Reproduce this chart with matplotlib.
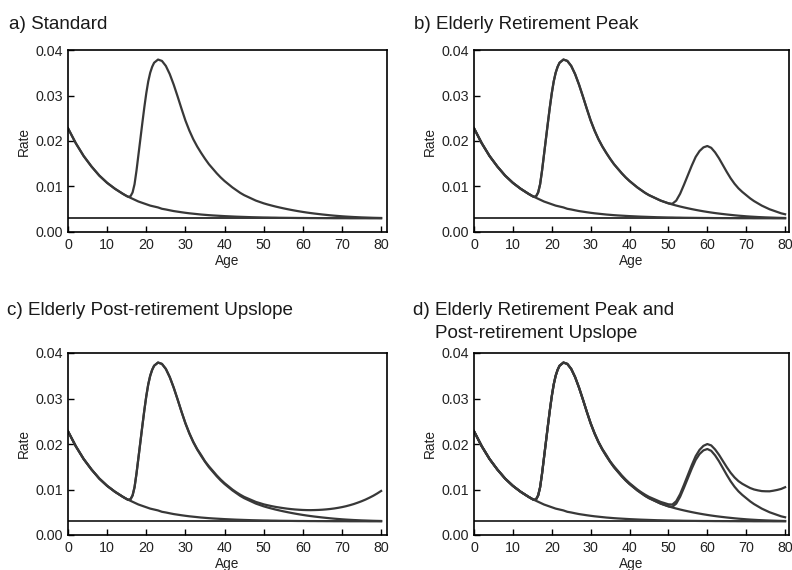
import matplotlib
matplotlib.use("Agg")
import matplotlib.pyplot as plt

plt.rcParams['font.family'] = ['Liberation Sans', 'DejaVu Sans']

# ---------------- data ----------------
ages = [0, 2, 4, 6, 8, 10, 12, 14,
        15, 15.5, 16, 16.5, 17, 17.5, 18, 18.5, 19, 19.5, 20, 20.5, 21, 21.5, 22,
        23, 24, 25, 26, 27, 28, 29, 30, 31, 32, 33, 34, 35, 36, 37, 38, 39, 40,
        41, 42, 43, 44, 45, 46, 47, 48, 49, 50,
        51, 52, 53, 54, 55, 56, 57, 58, 59, 60,
        61, 62, 63, 64, 65, 66, 67, 68, 69, 70,
        71, 72, 73, 74, 75, 76, 77, 78, 79, 80]

baseline_rate = 0.003

# childhood decay curve (plus constant)
childhood = [0.0228, 0.0195, 0.0167, 0.0144, 0.0124, 0.0108, 0.0095, 0.0084,
             0.0079, 0.0077, 0.0075, 0.0073, 0.0071, 0.0069, 0.0067, 0.00655, 0.0064, 0.00625,
             0.0061, 0.00595, 0.0058, 0.0057, 0.0056,
             0.0054, 0.0051, 0.00495, 0.00477, 0.0046, 0.00447, 0.00434, 0.00422, 0.00411,
             0.00402, 0.00393, 0.00384, 0.00377, 0.0037, 0.00364, 0.00359, 0.00354, 0.00349,
             0.00345, 0.00341, 0.00337, 0.00334, 0.00331, 0.00328, 0.00325, 0.00323, 0.00321, 0.00319,
             0.00318, 0.00316, 0.00315, 0.00313, 0.00312, 0.00311, 0.0031, 0.00309, 0.00308, 0.00308,
             0.00307, 0.00306, 0.00306, 0.00305, 0.00305, 0.00304, 0.00304, 0.00303, 0.00303, 0.00303,
             0.00303, 0.00302, 0.00302, 0.00302, 0.00302, 0.00302, 0.00301, 0.00301, 0.00301, 0.00301]

# standard schedule (childhood + labour-force peak)
labour = [0.0228, 0.0195, 0.0167, 0.0144, 0.0124, 0.0108, 0.0095, 0.0084,
          0.0079, 0.0077, 0.0079, 0.0087, 0.0105, 0.0135, 0.0170, 0.0205, 0.0240, 0.0274,
          0.0305, 0.0331, 0.0350, 0.0363, 0.0372,
          0.0379, 0.0376, 0.0365, 0.0347, 0.0324, 0.0298, 0.0271, 0.0245, 0.0223,
          0.0204, 0.0188, 0.0174, 0.0161, 0.0149, 0.0139, 0.0129, 0.0120, 0.0112,
          0.0105, 0.0098, 0.0092, 0.0086, 0.0081, 0.0077, 0.0073, 0.0069, 0.0066, 0.0063,
          0.00605, 0.00582, 0.0056, 0.0054, 0.00521, 0.00503, 0.00486, 0.0047, 0.00455, 0.00441,
          0.00428, 0.00416, 0.00405, 0.00395, 0.00385, 0.00376, 0.00367, 0.00359, 0.00352, 0.00345,
          0.00339, 0.00334, 0.00329, 0.00325, 0.00321, 0.00318, 0.00315, 0.00312, 0.0031, 0.00308]

# retirement peak, ages 51..80
retire_tail = [0.0062, 0.0069, 0.0084, 0.0104, 0.0125, 0.0146, 0.0165, 0.0178, 0.0186, 0.0189,
               0.0185, 0.0175, 0.0162, 0.0147, 0.0132, 0.0118, 0.0106, 0.0096, 0.0088, 0.0081,
               0.0074, 0.0068, 0.0063, 0.0058, 0.0054, 0.0050, 0.0047, 0.0044, 0.0041, 0.0039]

# post-retirement upslope schedule, ages 30..80
upslope_tail = [0.0246, 0.0224, 0.0205, 0.0189, 0.0176, 0.0162, 0.0151, 0.0141, 0.0131, 0.0122, 0.0114,
                0.0107, 0.0100, 0.0094, 0.00886, 0.00838, 0.00801, 0.00764, 0.00727, 0.00701, 0.00674,
                0.00654, 0.00635, 0.00618, 0.00604, 0.00591, 0.00579, 0.00569, 0.00561, 0.00555, 0.0055,
                0.00547, 0.00546, 0.00548, 0.00551, 0.00556, 0.00563, 0.00572, 0.00583, 0.00597, 0.00613,
                0.00632, 0.00655, 0.0068, 0.0071, 0.00742, 0.00778, 0.00819, 0.00863, 0.00913, 0.00968]

# retirement peak + upslope, ages 51..80
retire_up_tail = [0.00669, 0.00743, 0.00898, 0.01104, 0.0132, 0.01536, 0.01733, 0.01871, 0.0196, 0.01999,
                  0.01969, 0.0188, 0.01763, 0.01626, 0.01491, 0.01367, 0.01265, 0.01184, 0.01125, 0.01078,
                  0.01033, 0.01001, 0.00981, 0.00965, 0.00961, 0.0096, 0.00974, 0.00991, 0.01013, 0.0105]

retirement = labour[:51] + retire_tail
upslope = labour[:30] + upslope_tail
retire_up = upslope[:51] + retire_up_tail

x_ticks = [0, 10, 20, 30, 40, 50, 60, 70, 80]
y_ticks = [0.00, 0.01, 0.02, 0.03, 0.04]
y_tick_labels = ['0.00', '0.01', '0.02', '0.03', '0.04']

# ---------------- figure ----------------
W, H = 792, 570
fig = plt.figure(figsize=(W / 100, H / 100), dpi=100)


def make_axes(left, top, width, height):
    return fig.add_axes([left / W, 1 - (top + height) / H, width / W, height / H])


panels = [
    (68, 50, 319, 81.5, [childhood, labour]),
    (474, 50, 315, 81.0, [childhood, labour, retirement]),
    (68, 353, 319, 81.5, [childhood, labour, upslope]),
    (474, 353, 315, 81.0, [childhood, labour, retirement, retire_up]),
]

curve_color = '#383838'
for left, top, width, xmax, curves in panels:
    ax = make_axes(left, top, width, 182)
    ax.plot([ages[0], ages[-1]], [baseline_rate, baseline_rate], color='black', lw=1.1)
    for c in curves:
        ax.plot(ages, c, color=curve_color, lw=1.6, solid_joinstyle='round')
    ax.set_xlim(0, xmax)
    ax.set_ylim(0, 0.04)
    ax.set_xticks(x_ticks)
    ax.set_yticks(y_ticks)
    ax.set_yticklabels(y_tick_labels)
    ax.tick_params(direction='in', length=4, width=1, labelsize=10.3, colors='black',
                   labelcolor='#222222')
    ax.tick_params(axis='x', pad=4)
    ax.tick_params(axis='y', pad=3.5)
    for s in ax.spines.values():
        s.set_linewidth(1.2)
    ax.set_xlabel('Age', fontsize=9.8, labelpad=2, color='#222222')
    ax.set_ylabel('Rate', fontsize=9.8, labelpad=3, color='#222222')

title_kw = dict(fontsize=13.6, va='baseline', ha='left', color='#1a1a1a')
fig.text(9 / W, 1 - 29 / H, 'a) Standard', **title_kw)
fig.text(414 / W, 1 - 29 / H, 'b) Elderly Retirement Peak', **title_kw)
fig.text(7 / W, 1 - 315 / H, 'c) Elderly Post-retirement Upslope', **title_kw)
fig.text(413 / W, 1 - 315 / H, 'd) Elderly Retirement Peak and', **title_kw)
fig.text(435 / W, 1 - 338 / H, 'Post-retirement Upslope', **title_kw)

fig.savefig('out.png', dpi=100)
